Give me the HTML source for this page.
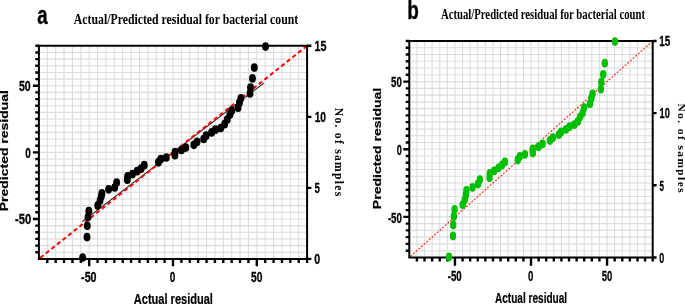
<!DOCTYPE html><html><head><meta charset="utf-8"><style>html,body{margin:0;padding:0;background:#fff;width:685px;height:304px;overflow:hidden}svg{display:block;will-change:transform}</style></head><body>
<svg width="685" height="304" viewBox="0 0 685 304">
<rect width="685" height="304" fill="#fff"/>
<path d="M47.28 45.80V258.90M38.90 252.24H307.10M55.66 45.80V258.90M38.90 245.58H307.10M64.04 45.80V258.90M38.90 238.92H307.10M72.43 45.80V258.90M38.90 232.26H307.10M80.81 45.80V258.90M38.90 225.60H307.10M89.19 45.80V258.90M38.90 218.94H307.10M97.57 45.80V258.90M38.90 212.28H307.10M105.95 45.80V258.90M38.90 205.62H307.10M114.33 45.80V258.90M38.90 198.97H307.10M122.71 45.80V258.90M38.90 192.31H307.10M131.09 45.80V258.90M38.90 185.65H307.10M139.48 45.80V258.90M38.90 178.99H307.10M147.86 45.80V258.90M38.90 172.33H307.10M156.24 45.80V258.90M38.90 165.67H307.10M164.62 45.80V258.90M38.90 159.01H307.10M173.00 45.80V258.90M38.90 152.35H307.10M181.38 45.80V258.90M38.90 145.69H307.10M189.76 45.80V258.90M38.90 139.03H307.10M198.14 45.80V258.90M38.90 132.37H307.10M206.53 45.80V258.90M38.90 125.71H307.10M214.91 45.80V258.90M38.90 119.05H307.10M223.29 45.80V258.90M38.90 112.39H307.10M231.67 45.80V258.90M38.90 105.73H307.10M240.05 45.80V258.90M38.90 99.08H307.10M248.43 45.80V258.90M38.90 92.42H307.10M256.81 45.80V258.90M38.90 85.76H307.10M265.19 45.80V258.90M38.90 79.10H307.10M273.58 45.80V258.90M38.90 72.44H307.10M281.96 45.80V258.90M38.90 65.78H307.10M290.34 45.80V258.90M38.90 59.12H307.10M298.72 45.80V258.90M38.90 52.46H307.10" stroke="#dcdcdc" stroke-width="1.1" fill="none"/>
<line x1="82.3" y1="221.6" x2="263.9" y2="83.1" stroke="#1a1a1a" stroke-width="1.1"/>
<line x1="38.90" y1="258.90" x2="307.10" y2="45.80" stroke="#ff0000" stroke-width="2" stroke-dasharray="4.2 2.96" stroke-dashoffset="5.52"/>
<path d="M38.90 44.80V259.90M37.90 258.90H308.10M37.90 45.80H308.10M307.10 44.80V259.90" stroke="#000" stroke-width="2.0" fill="none" stroke-linecap="butt"/>
<path d="M35.30 252.24H38.90M47.28 258.90V263.00M35.30 245.58H38.90M55.66 258.90V263.00M35.30 238.92H38.90M64.04 258.90V263.00M35.30 232.26H38.90M72.43 258.90V263.00M35.30 225.60H38.90M80.81 258.90V263.00M32.90 218.94H38.90M89.19 258.90V266.30M35.30 212.28H38.90M97.57 258.90V263.00M35.30 205.62H38.90M105.95 258.90V263.00M35.30 198.97H38.90M114.33 258.90V263.00M35.30 192.31H38.90M122.71 258.90V263.00M35.30 185.65H38.90M131.09 258.90V263.00M35.30 178.99H38.90M139.48 258.90V263.00M35.30 172.33H38.90M147.86 258.90V263.00M35.30 165.67H38.90M156.24 258.90V263.00M35.30 159.01H38.90M164.62 258.90V263.00M32.90 152.35H38.90M173.00 258.90V266.30M35.30 145.69H38.90M181.38 258.90V263.00M35.30 139.03H38.90M189.76 258.90V263.00M35.30 132.37H38.90M198.14 258.90V263.00M35.30 125.71H38.90M206.53 258.90V263.00M35.30 119.05H38.90M214.91 258.90V263.00M35.30 112.39H38.90M223.29 258.90V263.00M35.30 105.73H38.90M231.67 258.90V263.00M35.30 99.08H38.90M240.05 258.90V263.00M35.30 92.42H38.90M248.43 258.90V263.00M32.90 85.76H38.90M256.81 258.90V266.30M35.30 79.10H38.90M265.19 258.90V263.00M35.30 72.44H38.90M273.58 258.90V263.00M35.30 65.78H38.90M281.96 258.90V263.00M35.30 59.12H38.90M290.34 258.90V263.00M35.30 52.46H38.90M298.72 258.90V263.00M35.30 45.80H38.90M307.10 258.90V263.00M307.10 258.90H311.40M307.10 187.87H311.40M307.10 116.83H311.40M307.10 45.80H311.40" stroke="#000" stroke-width="2.4" fill="none" stroke-linecap="butt"/>
<ellipse cx="82.66" cy="257.50" rx="3.45" ry="4.35" fill="#000"/>
<ellipse cx="87.02" cy="237.10" rx="3.45" ry="4.35" fill="#000"/>
<ellipse cx="87.28" cy="225.80" rx="3.45" ry="4.35" fill="#000"/>
<ellipse cx="88.01" cy="217.00" rx="3.45" ry="4.35" fill="#000"/>
<ellipse cx="88.85" cy="211.00" rx="3.45" ry="4.35" fill="#000"/>
<ellipse cx="97.73" cy="205.60" rx="3.45" ry="4.35" fill="#000"/>
<ellipse cx="100.03" cy="200.70" rx="3.45" ry="4.35" fill="#000"/>
<ellipse cx="101.33" cy="196.30" rx="3.45" ry="4.35" fill="#000"/>
<ellipse cx="101.86" cy="193.40" rx="3.45" ry="4.35" fill="#000"/>
<ellipse cx="108.62" cy="189.30" rx="3.45" ry="4.35" fill="#000"/>
<ellipse cx="114.73" cy="187.50" rx="3.45" ry="4.35" fill="#000"/>
<ellipse cx="116.65" cy="182.60" rx="3.45" ry="4.35" fill="#000"/>
<ellipse cx="127.28" cy="179.70" rx="3.45" ry="4.35" fill="#000"/>
<ellipse cx="127.66" cy="176.30" rx="3.45" ry="4.35" fill="#000"/>
<ellipse cx="132.49" cy="174.10" rx="3.45" ry="4.35" fill="#000"/>
<ellipse cx="137.16" cy="171.20" rx="3.45" ry="4.35" fill="#000"/>
<ellipse cx="141.11" cy="168.70" rx="3.45" ry="4.35" fill="#000"/>
<ellipse cx="144.24" cy="165.20" rx="3.45" ry="4.35" fill="#000"/>
<ellipse cx="158.43" cy="162.30" rx="3.45" ry="4.35" fill="#000"/>
<ellipse cx="160.67" cy="159.20" rx="3.45" ry="4.35" fill="#000"/>
<ellipse cx="166.28" cy="157.50" rx="3.45" ry="4.35" fill="#000"/>
<ellipse cx="174.89" cy="155.20" rx="3.45" ry="4.35" fill="#000"/>
<ellipse cx="175.00" cy="152.20" rx="3.45" ry="4.35" fill="#000"/>
<ellipse cx="181.40" cy="150.00" rx="3.45" ry="4.35" fill="#000"/>
<ellipse cx="185.75" cy="147.60" rx="3.45" ry="4.35" fill="#000"/>
<ellipse cx="193.89" cy="144.80" rx="3.45" ry="4.35" fill="#000"/>
<ellipse cx="197.08" cy="141.80" rx="3.45" ry="4.35" fill="#000"/>
<ellipse cx="203.72" cy="139.00" rx="3.45" ry="4.35" fill="#000"/>
<ellipse cx="206.12" cy="135.70" rx="3.45" ry="4.35" fill="#000"/>
<ellipse cx="211.63" cy="132.40" rx="3.45" ry="4.35" fill="#000"/>
<ellipse cx="215.45" cy="129.70" rx="3.45" ry="4.35" fill="#000"/>
<ellipse cx="220.77" cy="128.00" rx="3.45" ry="4.35" fill="#000"/>
<ellipse cx="224.64" cy="124.20" rx="3.45" ry="4.35" fill="#000"/>
<ellipse cx="227.26" cy="119.60" rx="3.45" ry="4.35" fill="#000"/>
<ellipse cx="229.89" cy="114.60" rx="3.45" ry="4.35" fill="#000"/>
<ellipse cx="231.64" cy="110.70" rx="3.45" ry="4.35" fill="#000"/>
<ellipse cx="238.04" cy="107.70" rx="3.45" ry="4.35" fill="#000"/>
<ellipse cx="239.46" cy="102.80" rx="3.45" ry="4.35" fill="#000"/>
<ellipse cx="240.84" cy="98.30" rx="3.45" ry="4.35" fill="#000"/>
<ellipse cx="250.00" cy="93.50" rx="3.45" ry="4.35" fill="#000"/>
<ellipse cx="250.53" cy="87.50" rx="3.45" ry="4.35" fill="#000"/>
<ellipse cx="252.53" cy="78.40" rx="3.45" ry="4.35" fill="#000"/>
<ellipse cx="254.31" cy="67.60" rx="3.45" ry="4.35" fill="#000"/>
<ellipse cx="265.53" cy="46.60" rx="3.45" ry="4.35" fill="#000"/>
<text x="37.22" y="23.80" font-size="25.23" font-family="&quot;Liberation Sans&quot;, sans-serif" font-weight="bold" textLength="10.34" lengthAdjust="spacingAndGlyphs" stroke="#000" stroke-width="0.35" stroke-linejoin="round">a</text><text x="73.83" y="24.00" font-size="14.07" font-family="&quot;Liberation Serif&quot;, serif" font-weight="bold" textLength="224.36" lengthAdjust="spacingAndGlyphs">Actual/Predicted residual for bacterial count</text><text x="18.98" y="91.20" font-size="14.14" font-family="&quot;Liberation Sans&quot;, sans-serif" font-weight="bold" textLength="11.77" lengthAdjust="spacingAndGlyphs" stroke="#000" stroke-width="0.3" stroke-linejoin="round">50</text><text x="25.30" y="157.80" font-size="14.14" font-family="&quot;Liberation Sans&quot;, sans-serif" font-weight="bold" textLength="5.56" lengthAdjust="spacingAndGlyphs" stroke="#000" stroke-width="0.3" stroke-linejoin="round">0</text><text x="15.05" y="224.20" font-size="14.14" font-family="&quot;Liberation Sans&quot;, sans-serif" font-weight="bold" textLength="16.26" lengthAdjust="spacingAndGlyphs" stroke="#000" stroke-width="0.3" stroke-linejoin="round">-50</text><text x="81.07" y="282.05" font-size="14.14" font-family="&quot;Liberation Sans&quot;, sans-serif" font-weight="bold" textLength="15.52" lengthAdjust="spacingAndGlyphs" stroke="#000" stroke-width="0.3" stroke-linejoin="round">-50</text><text x="169.85" y="282.05" font-size="14.14" font-family="&quot;Liberation Sans&quot;, sans-serif" font-weight="bold" textLength="5.56" lengthAdjust="spacingAndGlyphs" stroke="#000" stroke-width="0.3" stroke-linejoin="round">0</text><text x="250.99" y="282.05" font-size="14.14" font-family="&quot;Liberation Sans&quot;, sans-serif" font-weight="bold" textLength="11.44" lengthAdjust="spacingAndGlyphs" stroke="#000" stroke-width="0.3" stroke-linejoin="round">50</text><text x="133.82" y="303.50" font-size="14.04" font-family="&quot;Liberation Sans&quot;, sans-serif" font-weight="bold" textLength="79.09" lengthAdjust="spacingAndGlyphs" stroke="#000" stroke-width="0.2" stroke-linejoin="round">Actual residual</text><text x="314.46" y="51.05" font-size="14.35" font-family="&quot;Liberation Sans&quot;, sans-serif" font-weight="bold" textLength="11.89" lengthAdjust="spacingAndGlyphs" stroke="#000" stroke-width="0.3" stroke-linejoin="round">15</text><text x="314.69" y="122.10" font-size="14.14" font-family="&quot;Liberation Sans&quot;, sans-serif" font-weight="bold" textLength="11.34" lengthAdjust="spacingAndGlyphs" stroke="#000" stroke-width="0.3" stroke-linejoin="round">10</text><text x="314.51" y="193.05" font-size="14.35" font-family="&quot;Liberation Sans&quot;, sans-serif" font-weight="bold" textLength="5.34" lengthAdjust="spacingAndGlyphs" stroke="#000" stroke-width="0.3" stroke-linejoin="round">5</text><text x="314.17" y="264.00" font-size="14.14" font-family="&quot;Liberation Sans&quot;, sans-serif" font-weight="bold" textLength="5.92" lengthAdjust="spacingAndGlyphs" stroke="#000" stroke-width="0.3" stroke-linejoin="round">0</text><g transform="translate(8.30 211.23) rotate(-90)"><text x="0" y="0" font-size="10.62" font-family="&quot;Liberation Sans&quot;, sans-serif" font-weight="bold" textLength="121.16" lengthAdjust="spacingAndGlyphs" stroke="#000" stroke-width="0.2" stroke-linejoin="round">Predicted residual</text></g><g transform="translate(335.00 107.72) rotate(90)"><text x="0" y="0" font-size="11.64" font-family="&quot;Liberation Serif&quot;, serif" font-weight="bold" textLength="88.52" lengthAdjust="spacing">No. of samples</text></g>
<path d="M416.91 41.00V257.45M409.30 250.69H652.70M424.51 41.00V257.45M409.30 243.92H652.70M432.12 41.00V257.45M409.30 237.16H652.70M439.73 41.00V257.45M409.30 230.39H652.70M447.33 41.00V257.45M409.30 223.63H652.70M454.94 41.00V257.45M409.30 216.87H652.70M462.54 41.00V257.45M409.30 210.10H652.70M470.15 41.00V257.45M409.30 203.34H652.70M477.76 41.00V257.45M409.30 196.57H652.70M485.36 41.00V257.45M409.30 189.81H652.70M492.97 41.00V257.45M409.30 183.05H652.70M500.58 41.00V257.45M409.30 176.28H652.70M508.18 41.00V257.45M409.30 169.52H652.70M515.79 41.00V257.45M409.30 162.75H652.70M523.39 41.00V257.45M409.30 155.99H652.70M531.00 41.00V257.45M409.30 149.22H652.70M538.61 41.00V257.45M409.30 142.46H652.70M546.21 41.00V257.45M409.30 135.70H652.70M553.82 41.00V257.45M409.30 128.93H652.70M561.43 41.00V257.45M409.30 122.17H652.70M569.03 41.00V257.45M409.30 115.40H652.70M576.64 41.00V257.45M409.30 108.64H652.70M584.24 41.00V257.45M409.30 101.88H652.70M591.85 41.00V257.45M409.30 95.11H652.70M599.46 41.00V257.45M409.30 88.35H652.70M607.06 41.00V257.45M409.30 81.58H652.70M614.67 41.00V257.45M409.30 74.82H652.70M622.28 41.00V257.45M409.30 68.06H652.70M629.88 41.00V257.45M409.30 61.29H652.70M637.49 41.00V257.45M409.30 54.53H652.70M645.09 41.00V257.45M409.30 47.76H652.70" stroke="#dcdcdc" stroke-width="1.1" fill="none"/>
<line x1="409.30" y1="257.45" x2="652.70" y2="41.00" stroke="#ff2424" stroke-width="1.2" stroke-linecap="round" stroke-dasharray="0.9 2.6395" stroke-dashoffset="1.29"/>
<path d="M409.30 40.00V258.45M408.30 257.45H653.70M408.30 41.00H653.70M652.70 40.00V258.45" stroke="#000" stroke-width="2.0" fill="none" stroke-linecap="butt"/>
<path d="M405.70 250.69H409.30M416.91 257.45V261.55M405.70 243.92H409.30M424.51 257.45V261.55M405.70 237.16H409.30M432.12 257.45V261.55M405.70 230.39H409.30M439.73 257.45V261.55M405.70 223.63H409.30M447.33 257.45V261.55M403.30 216.87H409.30M454.94 257.45V265.65M405.70 210.10H409.30M462.54 257.45V261.55M405.70 203.34H409.30M470.15 257.45V261.55M405.70 196.57H409.30M477.76 257.45V261.55M405.70 189.81H409.30M485.36 257.45V261.55M405.70 183.05H409.30M492.97 257.45V261.55M405.70 176.28H409.30M500.58 257.45V261.55M405.70 169.52H409.30M508.18 257.45V261.55M405.70 162.75H409.30M515.79 257.45V261.55M405.70 155.99H409.30M523.39 257.45V261.55M403.30 149.22H409.30M531.00 257.45V265.65M405.70 142.46H409.30M538.61 257.45V261.55M405.70 135.70H409.30M546.21 257.45V261.55M405.70 128.93H409.30M553.82 257.45V261.55M405.70 122.17H409.30M561.43 257.45V261.55M405.70 115.40H409.30M569.03 257.45V261.55M405.70 108.64H409.30M576.64 257.45V261.55M405.70 101.88H409.30M584.24 257.45V261.55M405.70 95.11H409.30M591.85 257.45V261.55M405.70 88.35H409.30M599.46 257.45V261.55M403.30 81.58H409.30M607.06 257.45V265.65M405.70 74.82H409.30M614.67 257.45V261.55M405.70 68.06H409.30M622.28 257.45V261.55M405.70 61.29H409.30M629.88 257.45V261.55M405.70 54.53H409.30M637.49 257.45V261.55M405.70 47.76H409.30M645.09 257.45V261.55M405.70 41.00H409.30M652.70 257.45V261.55M652.70 257.45H656.60M652.70 185.30H656.60M652.70 113.15H656.60M652.70 41.00H656.60" stroke="#000" stroke-width="2.4" fill="none" stroke-linecap="butt"/>
<ellipse cx="449.02" cy="257.00" rx="3.2" ry="4.4" fill="#00bf00"/>
<ellipse cx="452.97" cy="236.00" rx="3.2" ry="4.4" fill="#00bf00"/>
<ellipse cx="453.20" cy="225.00" rx="3.2" ry="4.4" fill="#00bf00"/>
<ellipse cx="453.87" cy="216.50" rx="3.2" ry="4.4" fill="#00bf00"/>
<ellipse cx="454.63" cy="209.50" rx="3.2" ry="4.4" fill="#00bf00"/>
<ellipse cx="462.69" cy="204.70" rx="3.2" ry="4.4" fill="#00bf00"/>
<ellipse cx="464.78" cy="199.70" rx="3.2" ry="4.4" fill="#00bf00"/>
<ellipse cx="465.96" cy="194.80" rx="3.2" ry="4.4" fill="#00bf00"/>
<ellipse cx="466.44" cy="190.40" rx="3.2" ry="4.4" fill="#00bf00"/>
<ellipse cx="472.58" cy="187.30" rx="3.2" ry="4.4" fill="#00bf00"/>
<ellipse cx="478.11" cy="184.00" rx="3.2" ry="4.4" fill="#00bf00"/>
<ellipse cx="479.86" cy="179.60" rx="3.2" ry="4.4" fill="#00bf00"/>
<ellipse cx="489.51" cy="177.70" rx="3.2" ry="4.4" fill="#00bf00"/>
<ellipse cx="489.85" cy="173.30" rx="3.2" ry="4.4" fill="#00bf00"/>
<ellipse cx="494.23" cy="170.80" rx="3.2" ry="4.4" fill="#00bf00"/>
<ellipse cx="498.47" cy="167.80" rx="3.2" ry="4.4" fill="#00bf00"/>
<ellipse cx="502.06" cy="164.90" rx="3.2" ry="4.4" fill="#00bf00"/>
<ellipse cx="504.90" cy="161.90" rx="3.2" ry="4.4" fill="#00bf00"/>
<ellipse cx="517.78" cy="160.00" rx="3.2" ry="4.4" fill="#00bf00"/>
<ellipse cx="519.81" cy="156.30" rx="3.2" ry="4.4" fill="#00bf00"/>
<ellipse cx="524.90" cy="154.30" rx="3.2" ry="4.4" fill="#00bf00"/>
<ellipse cx="532.71" cy="149.00" rx="3.2" ry="4.4" fill="#00bf00"/>
<ellipse cx="532.81" cy="153.00" rx="3.2" ry="4.4" fill="#00bf00"/>
<ellipse cx="538.62" cy="146.80" rx="3.2" ry="4.4" fill="#00bf00"/>
<ellipse cx="542.57" cy="143.80" rx="3.2" ry="4.4" fill="#00bf00"/>
<ellipse cx="549.96" cy="140.50" rx="3.2" ry="4.4" fill="#00bf00"/>
<ellipse cx="552.85" cy="137.70" rx="3.2" ry="4.4" fill="#00bf00"/>
<ellipse cx="558.88" cy="134.60" rx="3.2" ry="4.4" fill="#00bf00"/>
<ellipse cx="561.06" cy="132.00" rx="3.2" ry="4.4" fill="#00bf00"/>
<ellipse cx="566.06" cy="129.30" rx="3.2" ry="4.4" fill="#00bf00"/>
<ellipse cx="569.53" cy="126.70" rx="3.2" ry="4.4" fill="#00bf00"/>
<ellipse cx="574.35" cy="124.70" rx="3.2" ry="4.4" fill="#00bf00"/>
<ellipse cx="577.86" cy="121.40" rx="3.2" ry="4.4" fill="#00bf00"/>
<ellipse cx="580.24" cy="116.80" rx="3.2" ry="4.4" fill="#00bf00"/>
<ellipse cx="582.63" cy="112.90" rx="3.2" ry="4.4" fill="#00bf00"/>
<ellipse cx="584.22" cy="107.60" rx="3.2" ry="4.4" fill="#00bf00"/>
<ellipse cx="590.03" cy="103.70" rx="3.2" ry="4.4" fill="#00bf00"/>
<ellipse cx="591.31" cy="98.40" rx="3.2" ry="4.4" fill="#00bf00"/>
<ellipse cx="592.57" cy="93.80" rx="3.2" ry="4.4" fill="#00bf00"/>
<ellipse cx="600.88" cy="89.10" rx="3.2" ry="4.4" fill="#00bf00"/>
<ellipse cx="601.36" cy="82.10" rx="3.2" ry="4.4" fill="#00bf00"/>
<ellipse cx="603.17" cy="74.30" rx="3.2" ry="4.4" fill="#00bf00"/>
<ellipse cx="604.79" cy="63.20" rx="3.2" ry="4.4" fill="#00bf00"/>
<ellipse cx="614.97" cy="41.60" rx="3.2" ry="4.4" fill="#00bf00"/>
<text x="407.25" y="18.60" font-size="24.97" font-family="&quot;Liberation Sans&quot;, sans-serif" font-weight="bold" textLength="11.55" lengthAdjust="spacingAndGlyphs" stroke="#000" stroke-width="0.35" stroke-linejoin="round">b</text><text x="440.94" y="18.65" font-size="14.00" font-family="&quot;Liberation Serif&quot;, serif" font-weight="bold" textLength="204.14" lengthAdjust="spacingAndGlyphs">Actual/Predicted residual for bacterial count</text><text x="391.11" y="87.10" font-size="14.14" font-family="&quot;Liberation Sans&quot;, sans-serif" font-weight="bold" textLength="10.70" lengthAdjust="spacingAndGlyphs" stroke="#000" stroke-width="0.3" stroke-linejoin="round">50</text><text x="396.73" y="154.65" font-size="14.14" font-family="&quot;Liberation Sans&quot;, sans-serif" font-weight="bold" textLength="5.09" lengthAdjust="spacingAndGlyphs" stroke="#000" stroke-width="0.3" stroke-linejoin="round">0</text><text x="387.91" y="222.65" font-size="14.14" font-family="&quot;Liberation Sans&quot;, sans-serif" font-weight="bold" textLength="13.92" lengthAdjust="spacingAndGlyphs" stroke="#000" stroke-width="0.3" stroke-linejoin="round">-50</text><text x="447.71" y="281.45" font-size="14.14" font-family="&quot;Liberation Sans&quot;, sans-serif" font-weight="bold" textLength="14.03" lengthAdjust="spacingAndGlyphs" stroke="#000" stroke-width="0.3" stroke-linejoin="round">-50</text><text x="527.92" y="281.45" font-size="14.14" font-family="&quot;Liberation Sans&quot;, sans-serif" font-weight="bold" textLength="5.33" lengthAdjust="spacingAndGlyphs" stroke="#000" stroke-width="0.3" stroke-linejoin="round">0</text><text x="601.81" y="281.45" font-size="14.14" font-family="&quot;Liberation Sans&quot;, sans-serif" font-weight="bold" textLength="10.59" lengthAdjust="spacingAndGlyphs" stroke="#000" stroke-width="0.3" stroke-linejoin="round">50</text><text x="494.95" y="302.60" font-size="13.90" font-family="&quot;Liberation Sans&quot;, sans-serif" font-weight="bold" textLength="72.20" lengthAdjust="spacingAndGlyphs" stroke="#000" stroke-width="0.2" stroke-linejoin="round">Actual residual</text><text x="659.31" y="46.30" font-size="14.35" font-family="&quot;Liberation Sans&quot;, sans-serif" font-weight="bold" textLength="10.91" lengthAdjust="spacingAndGlyphs" stroke="#000" stroke-width="0.3" stroke-linejoin="round">15</text><text x="659.55" y="118.30" font-size="14.14" font-family="&quot;Liberation Sans&quot;, sans-serif" font-weight="bold" textLength="10.24" lengthAdjust="spacingAndGlyphs" stroke="#000" stroke-width="0.3" stroke-linejoin="round">10</text><text x="659.56" y="190.65" font-size="14.35" font-family="&quot;Liberation Sans&quot;, sans-serif" font-weight="bold" textLength="4.45" lengthAdjust="spacingAndGlyphs" stroke="#000" stroke-width="0.3" stroke-linejoin="round">5</text><text x="659.14" y="263.30" font-size="14.14" font-family="&quot;Liberation Sans&quot;, sans-serif" font-weight="bold" textLength="4.97" lengthAdjust="spacingAndGlyphs" stroke="#000" stroke-width="0.3" stroke-linejoin="round">0</text><g transform="translate(381.40 209.13) rotate(-90)"><text x="0" y="0" font-size="10.48" font-family="&quot;Liberation Sans&quot;, sans-serif" font-weight="bold" textLength="121.36" lengthAdjust="spacingAndGlyphs" stroke="#000" stroke-width="0.2" stroke-linejoin="round">Predicted residual</text></g><g transform="translate(677.60 103.42) rotate(90)"><text x="0" y="0" font-size="11.36" font-family="&quot;Liberation Serif&quot;, serif" font-weight="bold" textLength="89.20" lengthAdjust="spacing">No. of samples</text></g>
</svg></body></html>
